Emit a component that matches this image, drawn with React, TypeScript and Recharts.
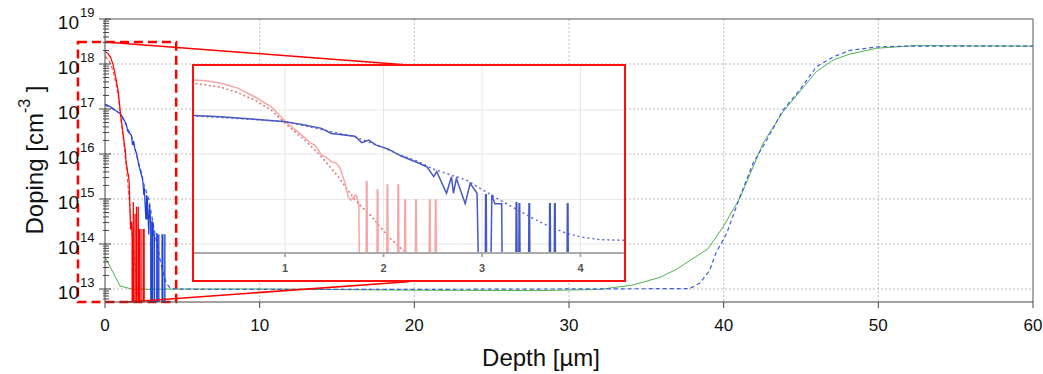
import { LineChart, Line, XAxis, YAxis, CartesianGrid, ReferenceArea, ReferenceLine } from 'recharts'

type Pt = [number, number]

// values below the visible range, used for the bottoms of the noise spikes
const FLOOR = 1e12

const xTicks = [0, 10, 20, 30, 40, 50, 60]
const xGrid = [10, 20, 30, 40, 50]
const yTicks = [1e13, 1e14, 1e15, 1e16, 1e17, 1e18, 1e19]
const yGrid = [1e13, 1e14, 1e15, 1e16, 1e17, 1e18]
const yMinor = [12, 13, 14, 15, 16, 17, 18]
  .flatMap((d) => [2, 3, 4, 5, 6, 7, 8, 9].map((m) => m * Math.pow(10, d)))
  .filter((v) => v > 5.2e12 && v < 1e19)
const insetTicks = [1, 2, 3, 4]
const insetGrid = [1.86e17, 6.8e15, 8.1e14, 2.2e14, 7.6e12]

// red: measured (solid) and simulated (dashed)
const redMeasured: Pt[] = [
  [0, 1.9e18], [0.2, 1.7e18], [0.35, 1.42e18], [0.52, 9.8e17], [0.69, 5.1e17], [0.86, 2.4e17],
  [1.0, 8.1e16], [1.13, 3.6e16], [1.27, 1.5e16], [1.31, 1.25e16], [1.37, 6.3e15], [1.42, 5.2e15],
  [1.47, 3.8e15], [1.52, 3.4e15], [1.56, 2.3e15], [1.61, 7.4e14], [1.64, 2.7e14], [1.67, 2.1e14],
  [1.72, 3.1e14], [1.75, 1.6e14], [1.755, FLOOR],
]
const redSpikes: Pt[] = [
  [1.83, 8.3e14], [1.94, 4.5e14], [2.04, 6.5e14], [2.15, 6.5e14], [2.22, 2.1e14],
  [2.33, 2.1e14], [2.47, 2.1e14], [2.53, 2.1e14],
]
const redSimulated: Pt[] = [
  [0, 1.5e18], [0.07, 1.42e18], [0.35, 1.05e18], [0.52, 6.9e17], [0.69, 4.0e17], [0.86, 1.86e17],
  [1.0, 6.9e16], [1.2, 1.95e16], [1.37, 5.5e15], [1.54, 1.23e15], [1.71, 2.1e14], [1.88, 6.0e13],
  [2.05, 1.3e13], [2.23, 3.8e12], [2.45, 8e11],
]

// blue: measured (solid) and simulated (dashed)
const blueMeasured: Pt[] = [
  [0, 1.29e17], [0.35, 1.12e17], [0.69, 9.3e16], [1.0, 7.8e16], [1.2, 6.0e16], [1.37, 4.7e16],
  [1.47, 3.2e16], [1.71, 2.6e16], [1.78, 1.6e16], [1.85, 1.95e16], [1.92, 1.35e16], [2.05, 9.8e15],
  [2.18, 5.8e15], [2.35, 3.5e15], [2.44, 2.6e15], [2.51, 1.23e15], [2.54, 1.8e15], [2.64, 3.5e14],
  [2.69, 1.23e15], [2.71, 3.5e14], [2.74, 1.07e15], [2.83, 1.6e14], [2.88, 7.4e14], [2.95, 3.5e14],
  [2.965, FLOOR], [3.09, FLOOR], [3.1, 3.1e14], [3.13, 1.6e14], [3.2, 1.6e14], [3.205, FLOOR],
]
const blueSpikes: Pt[] = [
  [3.04, 3.1e14], [3.35, 1.7e14], [3.38, 1.6e14], [3.48, 1.6e14], [3.69, 1.6e14], [3.74, 1.6e14], [3.87, 1.6e14],
]
const blueSimulated: Pt[] = [
  [0, 1.23e17], [0.5, 1.0e17], [1.0, 7.9e16], [1.5, 3.5e16], [1.71, 2.5e16], [2.0, 1.1e16],
  [2.17, 6.3e15], [2.34, 4.0e15], [2.5, 2.2e15], [2.84, 9.5e14], [3.18, 2.1e14], [3.52, 5.2e13],
  [3.69, 2.8e13], [3.86, 1.7e13], [4.0, 1.3e13], [4.2, 1.05e13], [4.5, 1.0e13], [6, 9.8e12],
  [20, 9.8e12], [37.8, 1.02e13], [38.46, 1.35e13], [39.1, 2.6e13], [39.5, 6.3e13], [40.2, 1.74e14],
  [41.05, 1.12e15], [41.9, 6.2e15], [42.77, 2.0e16], [43.84, 9.5e16], [44.9, 2.6e17], [46.0, 8.7e17],
  [47.1, 1.45e18], [48.16, 2.0e18], [49.9, 2.4e18], [52, 2.5e18], [60, 2.5e18],
]

// green: substrate
const substrate: Pt[] = [
  [0, 5.2e13], [0.97, 1.17e13], [1.83, 9.8e12], [5, 1.0e13], [10, 1.0e13], [20, 9.4e12], [28, 9.2e12],
  [32, 9.8e12], [34.15, 1.23e13], [35.9, 1.82e13], [36.95, 2.75e13], [39.0, 7.9e13], [39.96, 2.4e14],
  [41.05, 1.05e15], [42.55, 1.74e16], [43.84, 8.7e16], [46.0, 6.8e17], [47.08, 1.23e18], [48.16, 1.66e18],
  [49.88, 2.24e18], [52.46, 2.57e18], [60, 2.5e18],
]

const withSpikes = (base: Pt[], spikes: Pt[]) =>
  [
    ...base,
    ...spikes.flatMap(([x, top]): Pt[] => [[x - 0.007, FLOOR], [x - 0.003, top], [x + 0.003, top], [x + 0.007, FLOOR]]),
  ].sort((a, b) => a[0] - b[0])

const pts = (arr: Pt[]) => arr.map(([x, y]) => ({ x, y }))

const redSolid = pts(withSpikes(redMeasured, redSpikes))
const redDashed = pts(redSimulated)
const blueSolid = pts(withSpikes(blueMeasured, blueSpikes))
const blueDashed = pts(blueSimulated)
const green = pts(substrate)

const FONT = '"Liberation Sans", Arial, sans-serif'

function YTick(props: any) {
  const { x, y, payload } = props
  const lg = Math.log10(payload.value)
  const exp = Math.round(lg)
  if (Math.abs(lg - exp) > 1e-6) {
    return <line x1={x - 2} x2={x + 4} y1={y} y2={y} stroke="#444" strokeWidth={1} />
  }
  return (
    <g>
      <line x1={x - 6} x2={x + 6} y1={y} y2={y} stroke="#444" strokeWidth={1} />
      <text x={x - 26} y={y + 10} textAnchor="end" fontSize={19} fill="#111" fontFamily={FONT}>10</text>
      <text x={x - 25} y={y - 2} textAnchor="start" fontSize={13} fill="#111" fontFamily={FONT}>{exp}</text>
    </g>
  )
}

function DopingLabel() {
  const cx = 34
  const cy = 160
  return (
    <text
      x={cx}
      y={cy}
      transform={`rotate(-90, ${cx}, ${cy})`}
      textAnchor="middle"
      dominantBaseline="central"
      fontSize={24}
      fill="#111"
      fontFamily={FONT}
    >
      Doping [cm<tspan dy={-10} fontSize={16}>-3</tspan><tspan dy={10}> ]</tspan>
    </text>
  )
}

function DepthLabel() {
  return (
    <text x={541} y={357} textAnchor="middle" dominantBaseline="central" fontSize={24} fill="#111" fontFamily={FONT}>
      Depth [µm]
    </text>
  )
}

function Inset() {
  return (
    <div
      style={{
        position: 'absolute',
        left: 192,
        top: 64,
        width: 434,
        height: 218,
        border: '2px solid #ff1010',
        background: '#fff',
        boxSizing: 'border-box',
      }}
    >
      <LineChart width={430} height={214} margin={{ top: 0, right: 0, bottom: 0, left: 0 }}>
        <CartesianGrid horizontalValues={insetGrid} verticalValues={insetTicks} stroke="#e6e6e6" />
        <XAxis
          type="number"
          dataKey="x"
          domain={[0.076, 4.442]}
          allowDataOverflow
          ticks={insetTicks}
          height={27}
          stroke="#aaa"
          strokeWidth={2}
          tickSize={4}
          tickMargin={7}
          tick={{ fontSize: 11, fill: '#555', fontWeight: 700, fontFamily: FONT }}
        />
        <YAxis hide scale="log" domain={[3.85e12, 5.2e18]} allowDataOverflow />
        <Line data={redDashed} dataKey="y" stroke="#e47474" strokeWidth={1.5} strokeDasharray="2 2.5" dot={false} isAnimationActive={false} />
        <Line data={redSolid} dataKey="y" stroke="#f6a6a6" strokeWidth={1.5} dot={false} isAnimationActive={false} />
        <Line data={blueDashed} dataKey="y" stroke="#5a6ad0" strokeWidth={1.5} strokeDasharray="2 3" dot={false} isAnimationActive={false} />
        <Line data={blueSolid} dataKey="y" stroke="#4558c4" strokeWidth={1.5} dot={false} isAnimationActive={false} />
      </LineChart>
    </div>
  )
}

export default function App() {
  return (
    <div style={{ position: 'absolute', left: 0, top: 0, width: 1043, height: 374, background: '#fff', fontFamily: FONT }}>
      <LineChart width={1043} height={374} margin={{ top: 19, right: 10, bottom: 42, left: 35 }}>
        <CartesianGrid horizontalValues={yGrid} verticalValues={xGrid} stroke="#bdbdbd" strokeDasharray="2 2" />
        <XAxis
          type="number"
          dataKey="x"
          domain={[0, 60]}
          allowDataOverflow
          ticks={xTicks}
          height={30}
          stroke="#444"
          tickSize={6}
          tickMargin={11}
          tick={{ fontSize: 17, fill: '#111', fontFamily: FONT }}
          label={<DepthLabel />}
        />
        <YAxis
          scale="log"
          domain={[5.14e12, 1e19]}
          allowDataOverflow
          ticks={[...yTicks, ...yMinor].sort((a, b) => a - b)}
          interval={0}
          width={70}
          stroke="#444"
          tickLine={false}
          tickSize={0}
          tickMargin={0}
          tick={<YTick />}
          label={<DopingLabel />}
        />
        <ReferenceLine y={1e19} stroke="#555" ifOverflow="visible" />
        <ReferenceLine x={60} stroke="#555" ifOverflow="visible" />
        <Line data={green} dataKey="y" stroke="#4cb34c" strokeWidth={1} dot={false} isAnimationActive={false} />
        <Line data={blueDashed} dataKey="y" stroke="#3d5ce6" strokeWidth={1.2} strokeDasharray="4 3" dot={false} isAnimationActive={false} />
        <Line data={blueSolid} dataKey="y" stroke="#1f3fd6" strokeWidth={1.2} dot={false} isAnimationActive={false} />
        <Line data={redDashed} dataKey="y" stroke="#ff5a5a" strokeWidth={1.2} strokeDasharray="4 2" dot={false} isAnimationActive={false} />
        <Line data={redSolid} dataKey="y" stroke="#ff0000" strokeWidth={1.2} dot={false} isAnimationActive={false} />
        <ReferenceArea
          x1={-1.75}
          x2={4.6}
          y1={5.14e12}
          y2={3.1e18}
          fill="none"
          fillOpacity={0}
          stroke="#ff0000"
          strokeWidth={2.5}
          strokeDasharray="9 5"
          ifOverflow="visible"
        />
        <ReferenceLine
          segment={[{ x: 0, y: 3.08e18 }, { x: 19.6, y: 9.5e17 }]}
          stroke="#ff0000"
          strokeWidth={1.6}
          ifOverflow="visible"
        />
        <ReferenceLine
          segment={[{ x: 1.5, y: 5.14e12 }, { x: 19.6, y: 1.45e13 }]}
          stroke="#ff0000"
          strokeWidth={1.6}
          ifOverflow="visible"
        />
      </LineChart>
      <Inset />
    </div>
  )
}
